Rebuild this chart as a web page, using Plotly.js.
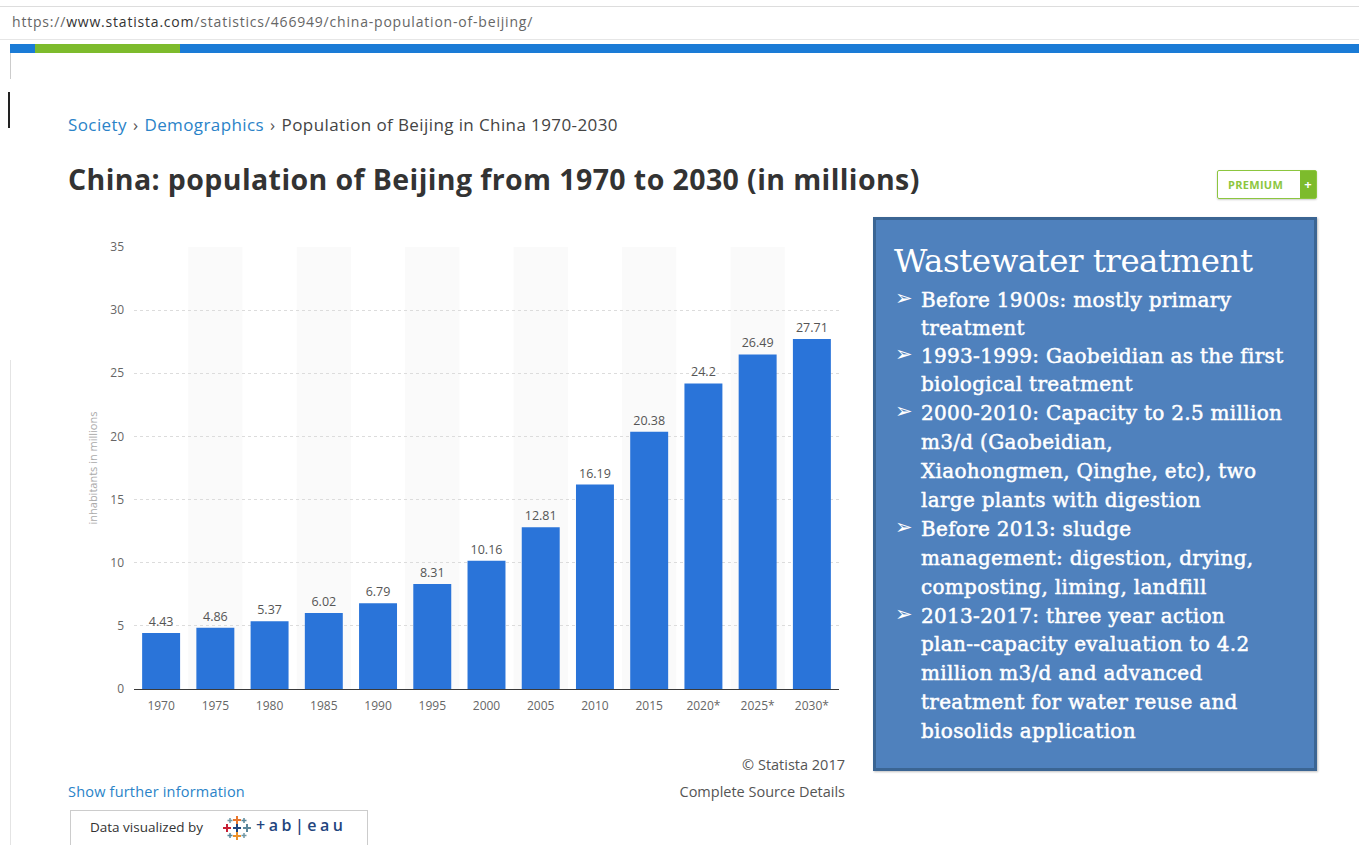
<!DOCTYPE html>
<html>
<head>
<meta charset="utf-8">
<script src="https://cdn.plot.ly/plotly-3.0.1.min.js"></script>
<style>
  html, body { margin:0; padding:0; width:1359px; height:845px; overflow:hidden; background:#fff; font-family:"Open Sans", sans-serif; }
  #chart { position:absolute; left:0; top:0; width:1359px; height:845px; }
  .ov { position:absolute; white-space:nowrap; pointer-events:none; z-index:5; }
  #box { position:absolute; left:873px; top:217px; width:438px; height:548px; background:#4f81bd; border:3px solid #3b6593; z-index:5; box-shadow:1px 1px 2px rgba(0,0,0,0.25); }
  #box .t { position:absolute; left:18px; top:22px; font-family:"DejaVu Serif", serif; font-size:32.5px; color:#fff; letter-spacing:-0.5px; }
  #box .l { position:absolute; left:45px; font-family:"DejaVu Serif", serif; font-size:20px; color:#fff; letter-spacing:0.3px; -webkit-text-stroke:0.5px #fff; white-space:nowrap; }
  #box .b { position:absolute; left:19px; font-family:"DejaVu Sans", sans-serif; font-size:21px; color:#fff; }
  .sep { margin:0 6px; color:#555; }
</style>
</head>
<body>
<div id="chart"></div>

<!-- browser url bar -->
<div class="ov" style="left:0;top:6px;width:1359px;height:32px;border-top:1px solid #ddd;border-bottom:1px solid #e6e6e6;"></div>
<div class="ov" style="left:12px;top:12px;font-size:14px;color:#666;letter-spacing:0.8px;">https://<span style="color:#333">www.statista.com</span>/statistics/466949/china-population-of-beijing/</div>
<div class="ov" style="left:10px;top:44px;width:1349px;height:9px;background:#1a7bd6;"></div>
<div class="ov" style="left:35px;top:44px;width:145px;height:9px;background:#7dbb2c;"></div>
<div class="ov" style="left:10px;top:53px;width:1px;height:26px;background:#ccc;"></div>
<div class="ov" style="left:8px;top:92px;width:2px;height:36px;background:#222;"></div>
<div class="ov" style="left:10px;top:360px;width:1px;height:485px;background:#e4e4e4;"></div>

<!-- breadcrumb and title -->
<div class="ov" style="left:68px;top:113px;font-size:17px;color:#444;letter-spacing:0.4px;"><span style="color:#2a83c8">Society</span><span class="sep">&#8250;</span><span style="color:#2a83c8">Demographics</span><span class="sep">&#8250;</span>Population of Beijing in China 1970-2030</div>
<div class="ov" style="left:68px;top:160px;font-size:28.5px;font-weight:700;color:#333;letter-spacing:0.4px;">China: population of Beijing from 1970 to 2030 (in millions)</div>

<!-- premium button -->
<div class="ov" style="left:1217px;top:170px;width:98px;height:27px;border:1px solid #8cc63f;border-radius:2px;box-shadow:0 1px 2px rgba(0,0,0,0.2);"></div>
<div class="ov" style="left:1228px;top:177px;font-size:11px;font-weight:bold;color:#8cc63f;letter-spacing:0.3px;">PREMIUM</div>
<div class="ov" style="left:1300px;top:171px;width:16px;height:27px;background:#7dbb2c;color:#fff;font-size:13px;font-weight:bold;text-align:center;line-height:27px;">+</div>

<!-- wastewater box -->
<div id="box">
  <div class="t">Wastewater treatment</div>
  <div class="b" style="top:66px">&#10146;</div>
  <div class="l" style="top:68px">Before 1900s: mostly primary</div>
  <div class="l" style="top:96px">treatment</div>
  <div class="b" style="top:122px">&#10146;</div>
  <div class="l" style="top:124px">1993-1999: Gaobeidian as the first</div>
  <div class="l" style="top:152px">biological treatment</div>
  <div class="b" style="top:179px">&#10146;</div>
  <div class="l" style="top:181px">2000-2010: Capacity to 2.5 million</div>
  <div class="l" style="top:210px">m3/d (Gaobeidian,</div>
  <div class="l" style="top:239px">Xiaohongmen, Qinghe, etc), two</div>
  <div class="l" style="top:268px">large plants with digestion</div>
  <div class="b" style="top:295px">&#10146;</div>
  <div class="l" style="top:297px">Before 2013: sludge</div>
  <div class="l" style="top:326px">management: digestion, drying,</div>
  <div class="l" style="top:355px">composting, liming, landfill</div>
  <div class="b" style="top:382px">&#10146;</div>
  <div class="l" style="top:384px">2013-2017: three year action</div>
  <div class="l" style="top:412px">plan--capacity evaluation to 4.2</div>
  <div class="l" style="top:441px">million m3/d and advanced</div>
  <div class="l" style="top:470px">treatment for water reuse and</div>
  <div class="l" style="top:499px">biosolids application</div>
</div>

<!-- footer -->
<div class="ov" style="right:514px;top:755px;font-size:14.5px;color:#555;text-align:right;">&#169; Statista 2017</div>
<div class="ov" style="right:514px;top:782px;font-size:14.5px;color:#555;text-align:right;">Complete Source Details</div>
<div class="ov" style="left:68px;top:782px;font-size:14.5px;color:#2a83c8;letter-spacing:0.2px;">Show further information</div>
<div class="ov" style="left:70px;top:810px;width:296px;height:40px;border:1px solid #ccc;background:#fff;"></div>
<div class="ov" style="left:90px;top:818px;font-size:13.5px;color:#333;">Data visualized by</div>
<svg class="ov" style="left:222px;top:814px;" width="30" height="28" viewBox="0 0 30 28">
  <g stroke-width="2">
    <path d="M15 2v8M11 6h8" stroke="#e8762d"/>
    <path d="M15 18v8M11 22h8" stroke="#eb912b"/>
    <path d="M5 10v8M1 14h8" stroke="#c72035"/>
    <path d="M25 10v8M21 14h8" stroke="#5b879b"/>
    <path d="M15 10v8M11 14h8" stroke="#1f457e"/>
    <path d="M8 4v5M5.5 6.5h5" stroke="#7099a6" stroke-width="1.5"/>
    <path d="M22 4v5M19.5 6.5h5" stroke="#59879b" stroke-width="1.5"/>
    <path d="M8 19v5M5.5 21.5h5" stroke="#59879b" stroke-width="1.5"/>
    <path d="M22 19v5M19.5 21.5h5" stroke="#7099a6" stroke-width="1.5"/>
  </g>
</svg>
<div class="ov" style="left:256px;top:814px;font-size:16px;color:#1f457e;letter-spacing:3.5px;font-weight:600;">+ab|eau</div>

<script>
const categories = ["1970","1975","1980","1985","1990","1995","2000","2005","2010","2015","2020*","2025*","2030*"];
const population = [4.43, 4.86, 5.37, 6.02, 6.79, 8.31, 10.16, 12.81, 16.19, 20.38, 24.2, 26.49, 27.71];
const yTicks = [0, 5, 10, 15, 20, 25, 30, 35];

const bands = [];
categories.forEach((c, i) => {
  if (i % 2 === 1) {
    bands.push({type:'rect', xref:'x', yref:'paper', x0:i-0.5, x1:i+0.5, y0:0, y1:1,
      fillcolor:'#fafafa', line:{width:0}, layer:'below'});
  }
});

const trace = {
  type:'bar', x:categories.map((c,i)=>i), y:population,
  marker:{color:'#2a74d9'},
  text:population.map(v=>String(v)), textposition:'outside',
  textfont:{family:'Open Sans, sans-serif', size:12.5, color:'#555'},
  cliponaxis:false, hoverinfo:'none'
};

const layout = {
  width:1359, height:845,
  margin:{l:134, r:520, t:247, b:156, pad:0},
  paper_bgcolor:'rgba(0,0,0,0)', plot_bgcolor:'rgba(0,0,0,0)',
  bargap:0.3, showlegend:false,
  font:{family:'Open Sans, sans-serif', color:'#666'},
  xaxis:{
    tickmode:'array', tickvals:categories.map((c,i)=>i), ticktext:categories,
    range:[-0.5, categories.length-0.5], showgrid:false, zeroline:false,
    showline:true, linecolor:'#3a3a3a', linewidth:1, ticks:'',
    ticklabelstandoff:6,
    tickfont:{size:12, color:'#666'}, fixedrange:true
  },
  yaxis:{
    range:[0,35], tickmode:'array', tickvals:yTicks, ticks:'',
    showgrid:true, gridcolor:'#dcdcdc', griddash:'dot', gridwidth:1,
    zeroline:false, showline:false, tickfont:{size:12, color:'#666'},
    ticklabelstandoff:9,
    title:{text:'inhabitants in millions', font:{size:11, color:'#aaa'}, standoff:10},
    automargin:false, fixedrange:true
  },
  shapes:bands
};

Plotly.newPlot('chart', [trace], layout, {displayModeBar:false, staticPlot:true});
</script>
</body>
</html>
